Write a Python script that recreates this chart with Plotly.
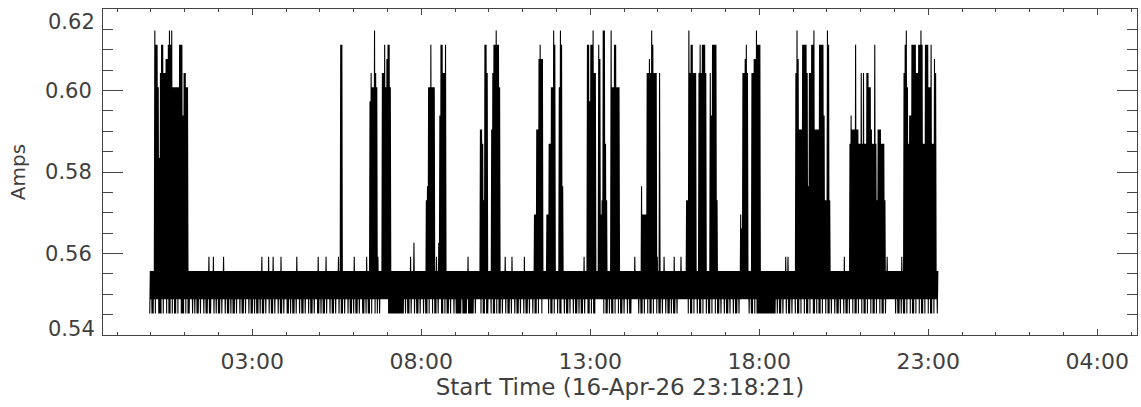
import pandas as pd
import plotly.graph_objects as go

# ---------------- data ----------------
START = "2026-04-16 23:58:00"      # first sample bin
BIN_MINUTES = 2                    # each bin = 2 minutes of samples
N_BINS = 700
LEVEL0 = 0.5453                    # lowest quantised current level (Amps)
LEVEL_STEP = 0.00347               # quantisation step (Amps)

# max level per bin inside active bursts (base-36 chars: 0-9, a=10 ... k=20)
burst_start = [4, 169, 195, 206, 245, 293, 341, 352, 388, 398, 436, 476,
               524, 573, 621, 669]
burst_levels = [
    "kjjgbhjjhhiijkjkggggggjjjehhgg",
    "jj",
    "fhggkhg4",
    "hhjgijjg",
    "89ggjggg3435ejjhhj",
    "ddc8jjh333dhjjkjjg",
    "77ddijii",
    "77ccggkj333gkj9",
    "jjfjjkhh",
    "ji78kkc8333kggjjggg",
    "97777hhihkjhhh43h",
    "88khjjhhh33hjhjjjh333hejjjj8",
    "76hhijh333hhiikjjj",
    "hkidddjjjjh9hhjjkddddjjjje88kj8",
    "cedddjddcchchcchhggdccjc8dddccc8",
    "hjkgceejjjjhhjjkjccjjjggjccih33",
]
# isolated small spikes above the quiet band
spike_bins = [52, 56, 65, 99, 105, 109, 116, 130, 149, 156, 167, 181, 192,
              231, 234, 282, 315, 321, 332, 385, 430, 456, 465, 471, 564,
              566, 616, 654, 667]
spike_levels = [4, 4, 4, 4, 4, 4, 4, 4, 4, 4, 4, 4, 4,
                4, 5, 4, 4, 4, 4, 4, 4, 4, 4, 4, 4,
                4, 4, 4, 4]
QUIET_MAX_LEVEL = 3

# min level per bin: 0 = dips to lowest level, 1 = stays at level 1
min_level_rows = [
    "0100101100 0101101001 0100101100 0101001101 0100101101 0010011010 1001011010 0101001011 0100101101 0010100101",
    "0010110100 1011010010 1100101001 0110100101 1010010110 0101001011 0100101101 0010110100 1010010110 0101001011",
    "0101011111 1100000000 0000001010 0101101001 0110100101 1010010110 0101001011 0100000100 0010000010 1111010010",
    "0110100101 0010110100 1011010010 1101001011 0100101101 1111010010 1101001101 0010110100 1010010110 0101001111",
    "1110100101 0010110100 1011010011 1111010010 1101001011 0100101101 0010100101 1111111101 0010110100 1011010010",
    "1101001011 0100101101 0010111111 1101001010 0000000000 0000001010 0101101001 0110100101 1010010110 0101001011",
    "0100101101 0010110100 1011010010 1101001011 0100101101 0010111111 1101001010 0101101001 0110100101 1010010110",
]

y_tick_vals = [0.54, 0.56, 0.58, 0.60, 0.62]
y_tick_text = ["0.54", "0.56", "0.58", "0.60", "0.62"]
x_tick_vals = ["2026-04-17 03:00", "2026-04-17 08:00", "2026-04-17 13:00",
               "2026-04-17 18:00", "2026-04-17 23:00", "2026-04-18 04:00"]
x_tick_text = ["03:00", "08:00", "13:00", "18:00", "23:00", "04:00"]

# ---------------- build the min/max trace per bin ----------------
max_level = [QUIET_MAX_LEVEL] * N_BINS
for b, lv in zip(spike_bins, spike_levels):
    max_level[b] = lv
for s, txt in zip(burst_start, burst_levels):
    for j, ch in enumerate(txt):
        max_level[s + j] = int(ch, 36)
min_level = [int(c) for c in "".join(min_level_rows).replace(" ", "")]

t0 = pd.Timestamp(START)
bin_td = pd.Timedelta(minutes=BIN_MINUTES)
xs, ys = [], []
for i in range(N_BINS):
    xs.append(t0 + bin_td * i)
    ys.append(LEVEL0 + min_level[i] * LEVEL_STEP)
    xs.append(t0 + bin_td * (i + 0.5))
    ys.append(LEVEL0 + max_level[i] * LEVEL_STEP)

fig = go.Figure(go.Scatter(
    x=xs, y=ys, mode="lines",
    line=dict(color="black", width=1.1),
    hoverinfo="skip",
))

axis_col = "#444444"
txt_col = "#3f3f3f"
TICK_FONT = 21

# inner y tick labels drawn by the axis; the two end labels are nudged
# inside the frame (as the original plotting package does)
axis_tick_text = [t if 0 < k < len(y_tick_text) - 1 else ""
                  for k, t in enumerate(y_tick_text)]

fig.update_layout(
    width=1141, height=407,
    margin=dict(l=103, r=4, t=9, b=72),
    plot_bgcolor="white", paper_bgcolor="white",
    showlegend=False,
    font=dict(family="DejaVu Sans", size=21, color=txt_col),
)
fig.update_xaxes(
    type="date", automargin=False,
    range=["2026-04-16 22:35:00", "2026-04-18 05:10:30"],
    tickvals=x_tick_vals, ticktext=x_tick_text,
    ticks="inside", ticklen=6, tickcolor=axis_col, tickwidth=1,
    minor=dict(ticks="inside", ticklen=3, dtick=3600 * 1000,
               tick0="2026-04-17 03:00:00", tickcolor=axis_col),
    showline=True, linecolor=axis_col, linewidth=1, mirror="allticks",
    showgrid=False, zeroline=False, ticklabeloverflow="allow",
    tickfont=dict(size=22), ticklabelstandoff=7,
    title=dict(text="Start Time (16-Apr-26 23:18:21)", font=dict(size=23), standoff=3),
)
fig.update_yaxes(
    automargin=False,
    range=[0.54, 0.62], tickvals=y_tick_vals, ticktext=axis_tick_text,
    ticks="inside", ticklen=20, tickcolor=axis_col, tickwidth=1,
    minor=dict(ticks="inside", ticklen=10, dtick=0.005, tick0=0.54, tickcolor=axis_col),
    showline=True, linecolor=axis_col, linewidth=1, mirror="allticks",
    showgrid=False, zeroline=False, ticklabeloverflow="allow",
    tickfont=dict(size=TICK_FONT), ticklabelstandoff=6,
    title=dict(text="Amps", font=dict(size=20), standoff=14),
)
fig.add_annotation(xref="paper", x=0, yref="y", y=y_tick_vals[-1],
                   text=y_tick_text[-1], showarrow=False,
                   xanchor="right", yanchor="top", xshift=-6, yshift=1,
                   font=dict(size=TICK_FONT, color=txt_col))
fig.add_annotation(xref="paper", x=0, yref="y", y=y_tick_vals[0],
                   text=y_tick_text[0], showarrow=False,
                   xanchor="right", yanchor="bottom", xshift=-6, yshift=-8,
                   font=dict(size=TICK_FONT, color=txt_col))

fig.write_html(
    "out.html",
    config={"displayModeBar": False},
    post_script="document.body.style.margin='0';document.body.style.overflow='hidden';",
)
